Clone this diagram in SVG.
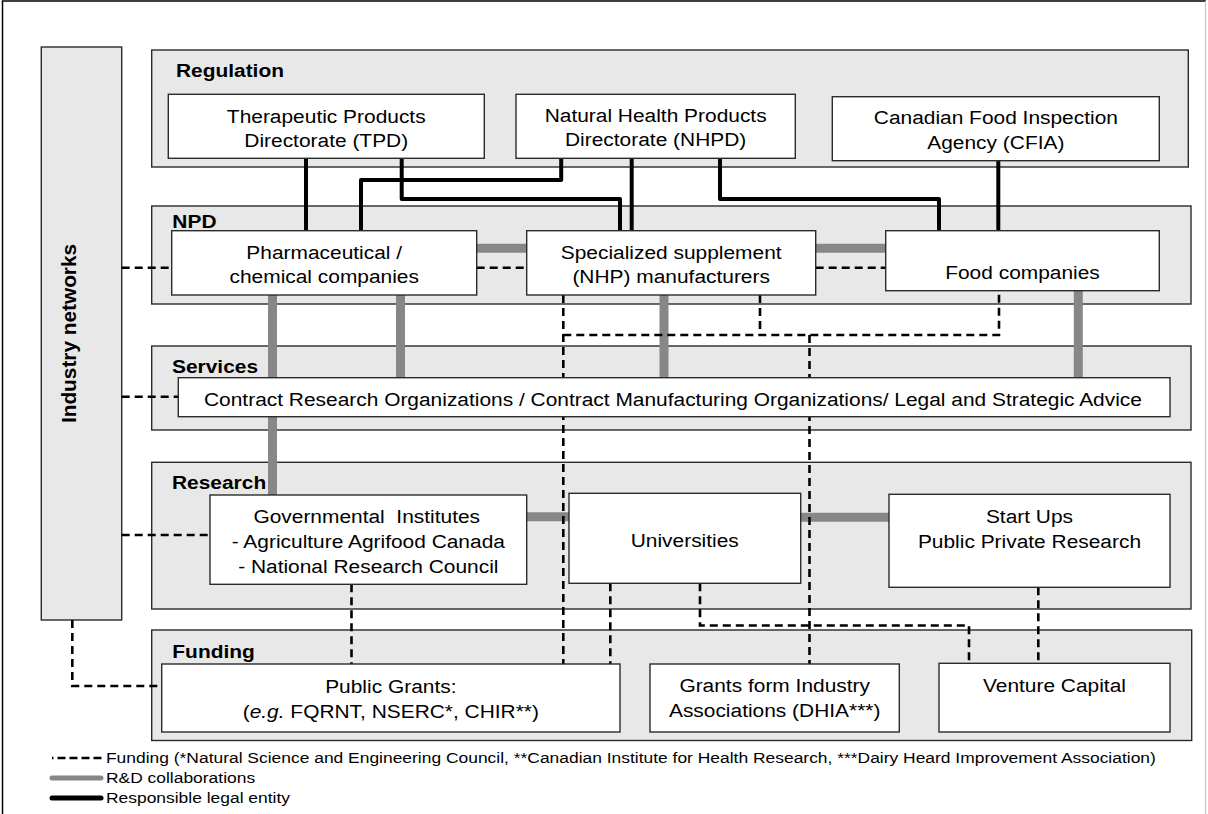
<svg xmlns="http://www.w3.org/2000/svg" width="1208" height="814" viewBox="0 0 1208 814">
  <style>
    .lane { fill: #e8e8e8; stroke: #2b2b2b; stroke-width: 1.4; }
    .box { fill: #ffffff; stroke: #2b2b2b; stroke-width: 1.4; }
    .rd { fill: none; stroke: #878787; stroke-width: 9; }
    .legal { fill: none; stroke: #000; stroke-width: 4; stroke-linejoin: round; }
    .fund { fill: none; stroke: #000; stroke-width: 2.6; stroke-dasharray: 8 5; }
    text { font-family: "Liberation Sans", Arial, Helvetica, sans-serif; fill: #000; }
    .t { font-size: 18.6px; text-anchor: middle; }
    .h { font-size: 18.6px; font-weight: bold; }
    .lg { font-size: 15.5px; }
  </style>

  <!-- outer frame -->
  <g id="frame">
    <path d="M2.5 814 V1 H1206" fill="none" stroke="#000" stroke-width="1.5"/>
    <line x1="1205.5" y1="1" x2="1205.5" y2="814" stroke="#c4c4c4" stroke-width="1.2"/>
  </g>

  <!-- swim lanes -->
  <g id="industry-networks">
    <rect class="lane" x="41.3" y="47" width="80.4" height="573"/>
    <text transform="translate(75.5 333.5) rotate(-90)" text-anchor="middle" font-size="20.8" font-weight="bold">Industry networks</text>
  </g>
  <g id="lane-regulation">
    <rect class="lane" x="151.7" y="50" width="1036.6" height="117"/>
    <text class="h" transform="scale(1.125 1)" x="156.4" y="77.3">Regulation</text>
  </g>
  <g id="lane-npd">
    <rect class="lane" x="151.7" y="206" width="1039.3" height="98"/>
    <text class="h" transform="scale(1.125 1)" x="153.2" y="228.3">NPD</text>
  </g>
  <g id="lane-services">
    <rect class="lane" x="151.7" y="346" width="1039.3" height="84"/>
    <text class="h" transform="scale(1.125 1)" x="152.9" y="372.7">Services</text>
  </g>
  <g id="lane-research">
    <rect class="lane" x="151.7" y="462.3" width="1039.3" height="146.7"/>
    <text class="h" transform="scale(1.125 1)" x="152.9" y="489">Research</text>
  </g>
  <g id="lane-funding">
    <rect class="lane" x="151.7" y="630" width="1040" height="110.5"/>
    <text class="h" transform="scale(1.125 1)" x="153.2" y="658.3">Funding</text>
  </g>

  <!-- connectors -->
  <g id="connectors">
    <!-- R&D collaborations -->
    <line class="rd" x1="272.5" y1="295" x2="272.5" y2="495"/>
    <line class="rd" x1="400.5" y1="295" x2="400.5" y2="378"/>
    <line class="rd" x1="664" y1="295" x2="664" y2="378"/>
    <line class="rd" x1="1078.3" y1="291" x2="1078.3" y2="378"/>
    <line class="rd" x1="476.7" y1="248.3" x2="526.7" y2="248.3"/>
    <line class="rd" x1="815.7" y1="248.3" x2="885.7" y2="248.3"/>
    <line class="rd" x1="526.7" y1="516.8" x2="569" y2="516.8"/>
    <line class="rd" x1="800.7" y1="517.3" x2="889" y2="517.3"/>

    <!-- responsible legal entity -->
    <path class="legal" d="M306 158.3 V230.7"/>
    <path class="legal" d="M361 230.7 V180 H561.2 V158.3"/>
    <path class="legal" d="M401.7 158.3 V199 H620 V230.7"/>
    <path class="legal" d="M631.7 158.3 V230.7"/>
    <path class="legal" d="M720 158.3 V199 H939 V230.7"/>
    <path class="legal" d="M998.3 160.7 V230.7"/>

    <!-- funding -->
    <path class="fund" d="M121.7 267.7 H171.7"/>
    <path class="fund" d="M121.7 396.7 H178.3"/>
    <path class="fund" d="M121.7 535 H210"/>
    <path class="fund" d="M72.3 620 V686 H161.7"/>
    <path class="fund" d="M476.7 267.7 H526.7"/>
    <path class="fund" d="M815.7 267.7 H885.7"/>
    <path class="fund" d="M563.3 295 V664"/>
    <path class="fund" d="M563.3 335 H999 V290.7"/>
    <path class="fund" d="M760 295 V335"/>
    <path class="fund" d="M809.5 335 V664"/>
    <path class="fund" d="M351.5 584.3 V664"/>
    <path class="fund" d="M610.3 583.3 V664"/>
    <path class="fund" d="M700 583.3 V625.5 H969 V663.3"/>
    <path class="fund" d="M1038.3 587.3 V663.3"/>
  </g>

  <!-- regulation bodies -->
  <g id="tpd">
    <rect class="box" x="168.3" y="94.3" width="316" height="64"/>
    <text class="t" transform="scale(1.125 1)" x="290" y="122.7">Therapeutic Products</text>
    <text class="t" transform="scale(1.125 1)" x="290" y="146.7">Directorate (TPD)</text>
  </g>
  <g id="nhpd">
    <rect class="box" x="516" y="94.3" width="279.3" height="64"/>
    <text class="t" transform="scale(1.125 1)" x="582.8" y="122">Natural Health Products</text>
    <text class="t" transform="scale(1.125 1)" x="582.8" y="146.5">Directorate (NHPD)</text>
  </g>
  <g id="cfia">
    <rect class="box" x="832.3" y="96.7" width="327" height="64"/>
    <text class="t" transform="scale(1.125 1)" x="885.2" y="124">Canadian Food Inspection</text>
    <text class="t" transform="scale(1.125 1)" x="885.2" y="149.3">Agency (CFIA)</text>
  </g>

  <!-- new product development -->
  <g id="pharma">
    <rect class="box" x="171.7" y="230.7" width="305" height="64.3"/>
    <text class="t" transform="scale(1.125 1)" x="288.2" y="259.3">Pharmaceutical /</text>
    <text class="t" transform="scale(1.125 1)" x="288.2" y="283.3">chemical companies</text>
  </g>
  <g id="nhp">
    <rect class="box" x="526.7" y="230.7" width="289" height="64.3"/>
    <text class="t" transform="scale(1.125 1)" x="596.6" y="259.3">Specialized supplement</text>
    <text class="t" transform="scale(1.125 1)" x="596.6" y="283.3">(NHP) manufacturers</text>
  </g>
  <g id="food">
    <rect class="box" x="885.7" y="230.7" width="273.6" height="60"/>
    <text class="t" transform="scale(1.125 1)" x="908.9" y="279.3">Food companies</text>
  </g>

  <!-- services -->
  <g id="cro">
    <rect class="box" x="178.3" y="377.7" width="991.7" height="39"/>
    <text class="t" transform="scale(1.125 1)" x="598.2" y="406">Contract Research Organizations / Contract Manufacturing Organizations/ Legal and Strategic Advice</text>
  </g>

  <!-- research -->
  <g id="gov">
    <rect class="box" x="210" y="495" width="316.7" height="89.3"/>
    <text class="t" transform="scale(1.125 1)" x="326" y="522.7" xml:space="preserve">Governmental  Institutes</text>
    <text class="t" transform="scale(1.125 1)" x="327.4" y="548.3">- Agriculture Agrifood Canada</text>
    <text class="t" transform="scale(1.125 1)" x="327.4" y="573.3">- National Research Council</text>
  </g>
  <g id="universities">
    <rect class="box" x="569" y="493.3" width="231.7" height="90"/>
    <text class="t" transform="scale(1.125 1)" x="608.7" y="546.7">Universities</text>
  </g>
  <g id="startups">
    <rect class="box" x="889" y="494.3" width="281" height="93"/>
    <text class="t" transform="scale(1.125 1)" x="915.1" y="522.7">Start Ups</text>
    <text class="t" transform="scale(1.125 1)" x="915.1" y="548.3">Public Private Research</text>
  </g>

  <!-- funding -->
  <g id="public-grants">
    <rect class="box" x="161.7" y="664" width="458.3" height="68"/>
    <text class="t" transform="scale(1.125 1)" x="347.4" y="693">Public Grants:</text>
    <text class="t" transform="scale(1.125 1)" x="347.4" y="718">(<tspan font-style="italic">e.g.</tspan> FQRNT, NSERC*, CHIR**)</text>
  </g>
  <g id="industry-grants">
    <rect class="box" x="650" y="664" width="249.3" height="68"/>
    <text class="t" transform="scale(1.125 1)" x="688.6" y="692.5">Grants form Industry</text>
    <text class="t" transform="scale(1.125 1)" x="688.6" y="717.5">Associations (DHIA***)</text>
  </g>
  <g id="venture-capital">
    <rect class="box" x="939" y="663.3" width="231" height="68.7"/>
    <text class="t" transform="scale(1.125 1)" x="937.3" y="692.5">Venture Capital</text>
  </g>

  <!-- legend -->
  <g id="legend">
    <line x1="52" y1="758" x2="102" y2="758" stroke="#000" stroke-width="2.6" stroke-dasharray="8 4" stroke-dashoffset="6.5"/>
    <text class="lg" transform="scale(1.125 1)" x="94.2" y="763.5">Funding (*Natural Science and Engineering Council, **Canadian Institute for Health Research, ***Dairy Heard Improvement Association)</text>
    <line x1="52" y1="778" x2="101" y2="778" stroke="#878787" stroke-width="5" stroke-linecap="round"/>
    <text class="lg" transform="scale(1.125 1)" x="94.2" y="783.5">R&amp;D collaborations</text>
    <line x1="52" y1="798" x2="101" y2="798" stroke="#000" stroke-width="5" stroke-linecap="round"/>
    <text class="lg" transform="scale(1.125 1)" x="94.2" y="803.5">Responsible legal entity</text>
  </g>
</svg>
